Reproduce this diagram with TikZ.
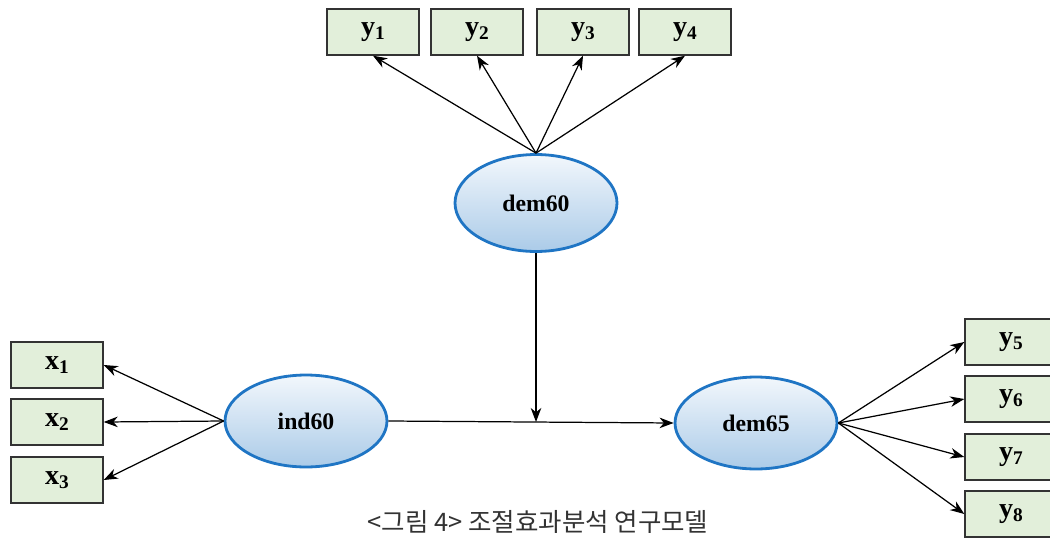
\documentclass[tikz,border=0pt]{standalone}
\usepackage{fontspec}
\setmainfont{Liberation Serif}
\newfontfamily\krfont{Noto Sans CJK KR}
\usetikzlibrary{shapes, arrows.meta}
\definecolor{boxgreen}{HTML}{E2EFDA}
\definecolor{latblue}{HTML}{1F75C4}
\definecolor{shadetop}{HTML}{F2F7FC}
\definecolor{shadebot}{HTML}{ABCBE8}
\newcommand\Ind[2]{{\bfseries #1\raisebox{-0.35ex}{\fontsize{11}{11}\selectfont #2}}}

\begin{document}
\begin{tikzpicture}[x=0.02cm, y=-0.02cm,
	obs/.style={draw=black!80, line width=0.8pt, fill=boxgreen, rectangle, minimum width=1.84cm, minimum height=0.92cm, font=\fontsize{16}{16}\selectfont},
	lat/.style={draw=latblue, line width=1.6pt, ellipse, top color=shadetop, bottom color=shadebot, minimum width=3.24cm, minimum height=1.84cm, font=\bfseries\fontsize{13.5}{13.5}\selectfont},
	path/.style={-{Stealth[length=8pt, width=6pt, inset=2.5pt]}, line width=0.7pt}]
	\useasboundingbox (0,0) rectangle (1050,537);
	% indicators
	\foreach \n/\x in {1/373, 2/477, 3/583, 4/685}
	{
		\node [obs] (y\n) at (\x,32) {\Ind{y}{\n}};
	}
	\foreach \n/\y in {1/365, 2/422, 3/480}
	{
		\node [obs] (x\n) at (57,\y) {\Ind{x}{\n}};
	}
	\foreach \n/\y in {5/342, 6/399, 7/457, 8/514}
	{
		\node [obs] (y\n) at (1011,\y) {\Ind{y}{\n}};
	}
	% latent variables
	\node [lat, minimum height=1.94cm] (dem60) at (536,203) {dem60};
	\node [lat] (ind60) at (306,421) {ind60};
	\node [lat] (dem65) at (756,423) {dem65};
	\foreach \n in {1,2,3,4}
		\draw [path] (dem60.north) -- (y\n.south);
	\foreach \n in {1,2,3}
		\draw [path] (ind60.west) -- (x\n.east);
	\foreach \n in {5,6,7,8}
		\draw [path] (dem65.east) -- (y\n.west);
	\draw [path] (ind60.east) -- (dem65.west);
	\coordinate (moderate) at (dem60.south |- 0,422);
	\draw [path] (dem60.south) -- (moderate);
	\node [font=\krfont\fontsize{14.5}{14.5}\selectfont, text=black!80] (caption) at (538,522) {<그림 4> 조절효과분석 연구모델};
\end{tikzpicture}
\end{document}
